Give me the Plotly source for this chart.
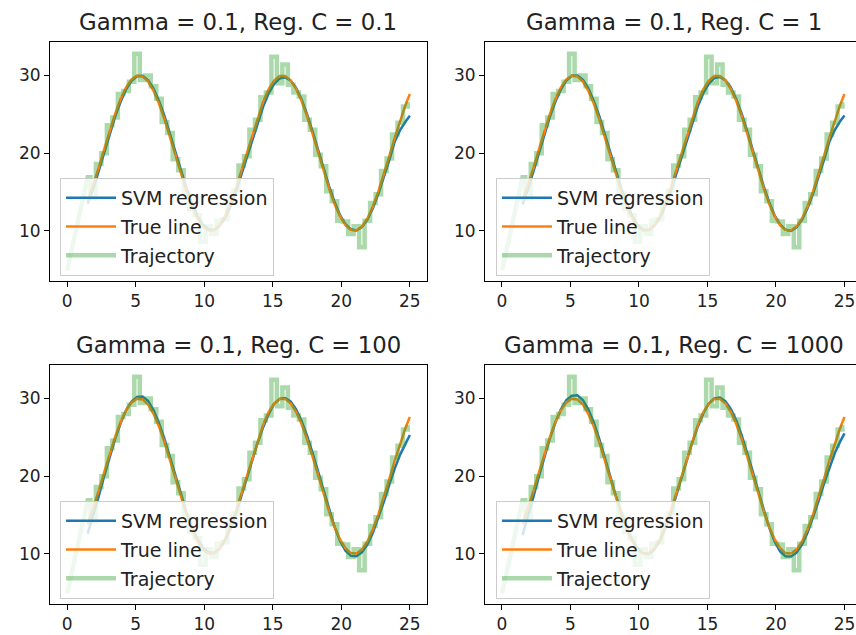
import plotly.graph_objects as go

W, H = 856, 635

# ---------------- data ----------------
line_x = [1.5, 1.9, 2.3, 2.7, 3.1, 3.5, 3.9, 4.3, 4.7, 5.1, 5.5, 5.9, 6.3, 6.7, 7.1,
          7.5, 7.9, 8.3, 8.7, 9.1, 9.5, 9.9, 10.3, 10.7, 11.1, 11.5, 11.9, 12.3, 12.7,
          13.1, 13.5, 13.9, 14.3, 14.7, 15.1, 15.5, 15.9, 16.3, 16.7, 17.1, 17.5, 17.9,
          18.3, 18.7, 19.1, 19.5, 19.9, 20.3, 20.7, 21.1, 21.5, 21.9, 22.3, 22.7, 23.1,
          23.5, 23.9, 24.3, 24.7, 25.0]

true_y = [13.78, 15.82, 18.10, 20.49, 22.85, 25.05, 26.96, 28.47, 29.49, 29.97, 29.87,
          29.23, 28.02, 26.38, 24.39, 22.11, 19.73, 17.35, 15.14, 13.28, 11.65, 10.54,
          10.05, 10.09, 10.70, 11.84, 13.45, 15.44, 17.68, 20.06, 22.44, 24.67, 26.63,
          28.23, 29.35, 29.92, 29.94, 29.38, 28.28, 26.70, 24.76, 22.52, 20.15, 17.78,
          15.51, 13.50, 11.89, 10.74, 10.10, 10.04, 10.55, 11.60, 13.13, 15.05, 17.26,
          19.63, 22.01, 24.29, 26.30, 27.60]

svm_c01 = [13.5, 15.4, 17.7, 20.1, 22.5, 24.7, 26.6, 28.2, 29.3, 29.9, 29.95, 29.4, 28.3,
           26.7, 24.8, 22.5, 20.1, 17.7, 15.5, 13.6, 11.9, 10.8, 10.2, 10.1, 10.6, 11.6,
           13.1, 15.0, 17.2, 19.5, 21.8, 24.0, 26.0, 27.7, 28.9, 29.6, 29.75, 29.35, 28.4,
           26.9, 25.0, 22.8, 20.45, 18.05, 15.8, 13.75, 12.05, 10.85, 10.2, 10.05, 10.5,
           11.45, 12.9, 14.75, 16.85, 19.1, 21.5, 23.0, 24.1, 24.8]

svm_c1 = [13.4, 15.4, 17.7, 20.1, 22.5, 24.7, 26.65, 28.2, 29.35, 29.95, 30.0, 29.45, 28.35,
          26.7, 24.8, 22.5, 20.1, 17.7, 15.5, 13.6, 11.9, 10.75, 10.15, 10.1, 10.6, 11.6,
          13.1, 15.0, 17.2, 19.5, 21.85, 24.05, 26.05, 27.75, 28.95, 29.65, 29.8, 29.4, 28.45,
          26.95, 25.05, 22.8, 20.45, 18.05, 15.75, 13.7, 12.0, 10.8, 10.15, 10.0, 10.45,
          11.45, 12.9, 14.75, 16.85, 19.1, 21.5, 23.0, 24.15, 24.85]

svm_c100 = [12.6, 14.9, 17.4, 20.0, 22.5, 24.8, 26.8, 28.5, 29.6, 30.2, 30.25, 29.7, 28.5,
            26.8, 24.8, 22.5, 20.0, 17.6, 15.4, 13.5, 11.9, 10.8, 10.2, 10.1, 10.6, 11.7,
            13.2, 15.1, 17.3, 19.7, 22.0, 24.3, 26.3, 28.0, 29.3, 29.95, 30.05, 29.6, 28.6,
            27.1, 25.2, 23.0, 20.6, 18.1, 15.7, 13.5, 11.7, 10.4, 9.75, 9.7, 10.2, 11.2,
            12.7, 14.6, 16.7, 18.9, 21.0, 22.8, 24.3, 25.3]

svm_c1000 = [12.4, 14.8, 17.4, 20.0, 22.6, 24.9, 26.9, 28.6, 29.8, 30.35, 30.4, 29.8, 28.6,
             26.9, 24.8, 22.5, 20.0, 17.5, 15.3, 13.4, 11.8, 10.7, 10.1, 10.0, 10.5, 11.6,
             13.2, 15.1, 17.4, 19.8, 22.1, 24.4, 26.4, 28.1, 29.35, 30.0, 30.1, 29.65, 28.65,
             27.15, 25.25, 23.0, 20.6, 18.1, 15.6, 13.4, 11.6, 10.3, 9.7, 9.65, 10.15, 11.2,
             12.7, 14.6, 16.75, 19.0, 21.1, 23.0, 24.5, 25.5]

traj_x = [0.0] + line_x
traj_y = [4.9, 16.9, 14.2, 18.6, 20.0, 23.6, 24.6, 27.6, 28.0, 29.2, 32.8, 29.4, 30.0, 28.6,
          27.0, 24.0, 22.6, 19.2, 17.8, 14.8, 12.8, 12.0, 8.6, 10.6, 9.6, 11.3, 11.5, 14.0,
          15.2, 18.4, 19.6, 23.0, 24.3, 27.2, 27.8, 32.4, 29.0, 31.4, 28.8, 27.8, 27.3, 24.3,
          23.0, 19.8, 18.3, 15.1, 13.8, 11.3, 11.2, 9.6, 10.6, 7.9, 11.3, 13.6, 14.7, 17.7,
          19.3, 22.4, 23.9, 26.0, 26.3]

gamma_label = "0.1"
c_labels = ["0.1", "1", "100", "1000"]
svm_series = [svm_c01, svm_c1, svm_c100, svm_c1000]
x_ticks = [0, 5, 10, 15, 20, 25]
y_ticks = [10, 20, 30]

# staircase of the trajectory: each sample held over the interval around it
n = len(traj_x)
stair_x, stair_y = [traj_x[0]], [traj_y[0]]
for i in range(1, n):
    left = traj_x[i] if i == 1 else (traj_x[i - 1] + traj_x[i]) / 2
    right = traj_x[i] if i == n - 1 else (traj_x[i] + traj_x[i + 1]) / 2
    stair_x += [left, right]
    stair_y += [traj_y[i], traj_y[i]]

# ---------------- layout geometry (pixels) ----------------
boxes = [(50, 427, 42, 281), (485, 856, 42, 281), (50, 427, 365, 604), (485, 856, 365, 604)]
x_ranges = [[-1.25, 26.25], [-1.24, 25.84], [-1.25, 26.25], [-1.24, 25.84]]
y_range = [3.55, 34.3]
legend_pos = [(60, 178), (496, 178), (60, 501), (496, 501)]
title_centers = [238.5, 673.5, 238.5, 673.5]

BLUE, ORANGE, GREEN = "#1f77b4", "#ff7f0e", "rgba(44,160,44,0.4)"
FONT = "DejaVu Sans"

fig = go.Figure()
layout = dict(
    width=W, height=H, margin=dict(l=0, r=0, t=0, b=0),
    paper_bgcolor="white", plot_bgcolor="white",
    font=dict(family=FONT, color="black"),
    annotations=[],
)

for i in range(4):
    sfx = "" if i == 0 else str(i + 1)
    xa, ya = "x" + sfx, "y" + sfx
    leg = "legend" + sfx
    l, r, t, b = boxes[i]
    layout["xaxis" + sfx] = dict(
        domain=[l / W, r / W], range=x_ranges[i], anchor=ya,
        tickvals=x_ticks, ticks="outside", ticklen=5, tickwidth=1, tickcolor="black",
        showline=True, linecolor="black", linewidth=1, mirror=True,
        showgrid=False, zeroline=False, tickfont=dict(size=17, family=FONT, color="#222"),
    )
    layout["yaxis" + sfx] = dict(
        domain=[1 - b / H, 1 - t / H], range=y_range, anchor=xa,
        tickvals=y_ticks, ticks="outside", ticklen=5, tickwidth=1, tickcolor="black",
        showline=True, linecolor="black", linewidth=1, mirror=(i % 2 == 0),
        showgrid=False, zeroline=False, tickfont=dict(size=17, family=FONT, color="#222"),
    )
    lx, ly = legend_pos[i]
    layout[leg] = dict(
        x=lx / W, y=1 - ly / H, xanchor="left", yanchor="top",
        bgcolor="rgba(255,255,255,0.8)", bordercolor="#cccccc", borderwidth=1,
        font=dict(size=19, family=FONT, color="#222"), itemwidth=50,
        tracegroupgap=1,
    )
    layout["annotations"].append(dict(
        text=f"Gamma = {gamma_label}, Reg. C = {c_labels[i]}",
        x=title_centers[i] / W, y=1 - t / H, xref="paper", yref="paper",
        xanchor="center", yanchor="bottom", yshift=5, showarrow=False,
        font=dict(size=22.8, family=FONT, color="#222"),
    ))

    fig.add_trace(go.Scatter(x=line_x, y=svm_series[i], mode="lines", name="SVM regression",
                             line=dict(color=BLUE, width=2.5), xaxis=xa, yaxis=ya,
                             legend=leg, legendgroup=f"a{i}"))
    fig.add_trace(go.Scatter(x=line_x, y=true_y, mode="lines", name="True line",
                             line=dict(color=ORANGE, width=2.5), xaxis=xa, yaxis=ya,
                             legend=leg, legendgroup=f"b{i}"))
    fig.add_trace(go.Scatter(x=stair_x, y=stair_y, mode="lines", name="Trajectory",
                             line=dict(color=GREEN, width=4.5), xaxis=xa, yaxis=ya,
                             legend=leg, legendgroup=f"c{i}"))

fig.update_layout(**layout)
fig.write_html("out.html")
